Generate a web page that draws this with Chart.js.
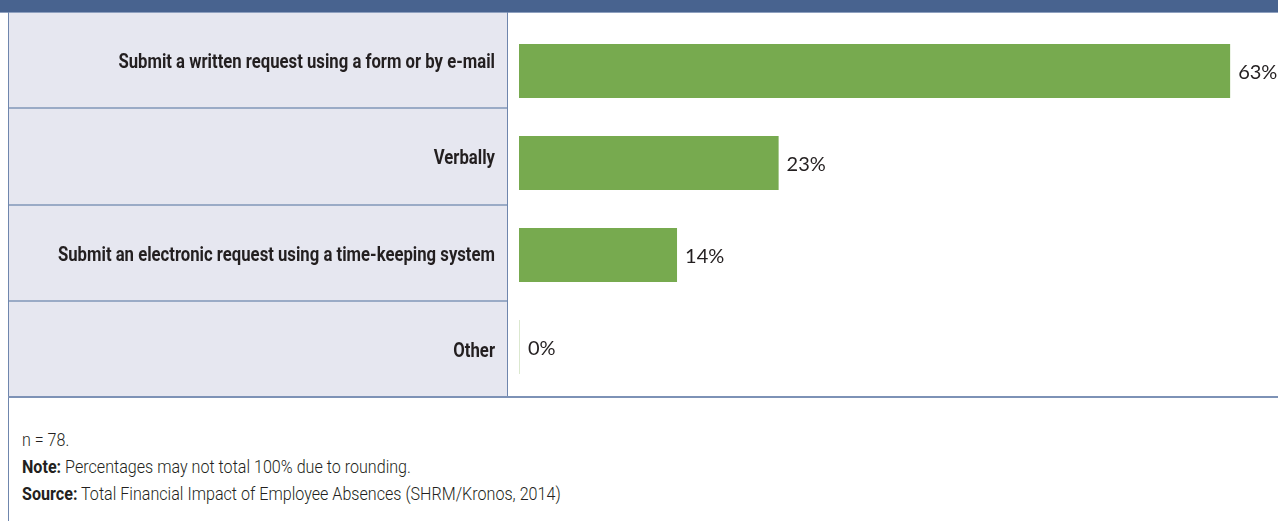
<!DOCTYPE html>
<html>
<head>
<meta charset="utf-8">
<script src="https://cdn.jsdelivr.net/npm/chart.js@4"></script>
<style>
  body { margin: 0; background: #fff; }
  #wrap { position: relative; width: 1278px; height: 521px; overflow: hidden; }
  #chart { position: absolute; left: 0; top: 0; }
  #footer {
    position: absolute; left: 8px; top: 398px; width: 1270px; height: 123px;
    border-left: 1px solid #6f86ad; box-sizing: border-box;
    font-family: Roboto, sans-serif; font-weight: 300; font-size: 18px; color: #231f20;
  }
  #footer div { position: absolute; left: 13px; white-space: nowrap; transform: scaleX(0.895); transform-origin: left top; }
  #footer b { font-weight: bold; }
</style>
</head>
<body>
<div id="wrap">
  <canvas id="chart" width="1278" height="398"></canvas>
  <div id="footer">
    <div style="top:31px">n = 78.</div>
    <div style="top:58px"><b>Note:</b> Percentages may not total 100% due to rounding.</div>
    <div style="top:85px"><b>Source:</b> Total Financial Impact of Employee Absences (SHRM/Kronos, 2014)</div>
  </div>
</div>
<script>
// data
const categories = [
  'Submit a written request using a form or by e-mail',
  'Verbally',
  'Submit an electronic request using a time-keeping system',
  'Other'
];
const percentValues = [63, 23, 14, 0];

// table: header band, label panel, row lines and the category labels
const tableTop = 12, tableBottom = 397, tableLeft = 8, tableSplit = 507;

const tableBackground = {
  id: 'tableBackground',
  beforeDraw(chart) {
    const ctx = chart.ctx;
    const W = chart.width;
    ctx.save();
    ctx.fillStyle = '#48638f';
    ctx.fillRect(0, 0, W, tableTop);
    ctx.fillStyle = '#8ea0bf';
    ctx.fillRect(0, tableTop, W, 1);
    ctx.fillStyle = '#e6e7f0';
    ctx.fillRect(tableLeft, tableTop + 1, tableSplit - tableLeft, tableBottom - tableTop - 1);
    // row dividers
    ctx.strokeStyle = '#9aabc6';
    ctx.lineWidth = 2;
    const rowH = (tableBottom - tableTop) / categories.length;
    for (let i = 1; i < categories.length; i++) {
      const y = Math.round(tableTop + rowH * i);
      ctx.beginPath();
      ctx.moveTo(tableLeft, y);
      ctx.lineTo(tableSplit, y);
      ctx.stroke();
    }
    ctx.strokeStyle = '#6f86ad';
    ctx.lineWidth = 1;
    ctx.beginPath();
    ctx.moveTo(tableLeft + 0.5, tableTop);
    ctx.lineTo(tableLeft + 0.5, chart.height);
    ctx.moveTo(tableSplit + 0.5, tableTop);
    ctx.lineTo(tableSplit + 0.5, tableBottom);
    ctx.stroke();
    ctx.strokeStyle = '#7d92b6';
    ctx.lineWidth = 2;
    ctx.beginPath();
    ctx.moveTo(tableLeft, tableBottom);
    ctx.lineTo(W, tableBottom);
    ctx.stroke();

    // category labels, condensed look, centred in their table rows
    ctx.font = 'bold 20px Roboto, sans-serif';
    ctx.fillStyle = '#231f20';
    ctx.textAlign = 'right';
    ctx.textBaseline = 'middle';
    const sx = 0.835;
    categories.forEach((label, i) => {
      const y = tableTop + rowH * (i + 0.5) + 3;
      ctx.save();
      ctx.translate(495, y);
      ctx.scale(sx, 1);
      ctx.fillText(label, 0, 0);
      ctx.restore();
    });
    ctx.restore();
  }
};

// value labels next to bars
const valueLabels = {
  id: 'valueLabels',
  afterDatasetsDraw(chart) {
    const ctx = chart.ctx;
    const meta = chart.getDatasetMeta(0);
    ctx.save();
    ctx.font = '20px Lato, "Open Sans", sans-serif';
    ctx.fillStyle = '#231f20';
    ctx.textAlign = 'left';
    ctx.textBaseline = 'middle';
    meta.data.forEach((bar, i) => {
      ctx.fillText(percentValues[i] + '%', bar.x + 8, bar.y + 2);
    });
    ctx.restore();
  }
};

const ctx = document.getElementById('chart').getContext('2d');
const chart = new Chart(ctx, {
  type: 'bar',
  data: {
    labels: categories,
    datasets: [{
      data: percentValues,
      backgroundColor: c => c.raw === 0 ? '#dbe8cf' : '#77aa4f',
      minBarLength: 1,
      barPercentage: 0.587,
      categoryPercentage: 1
    }]
  },
  options: {
    indexAxis: 'y',
    responsive: false,
    animation: false,
    layout: { autoPadding: false, padding: { top: 25, bottom: 5, right: 14, left: 0 } },
    plugins: { legend: { display: false }, tooltip: { enabled: false } },
    scales: {
      x: { display: false, min: 0, max: 66 },
      y: {
        afterFit(scale) { scale.width = 519; scale.paddingTop = 0; scale.paddingBottom = 0; },
        grid: { display: false, drawTicks: false },
        border: { display: false },
        ticks: { display: false }
      }
    }
  },
  plugins: [tableBackground, valueLabels]
});
</script>
</body>
</html>
